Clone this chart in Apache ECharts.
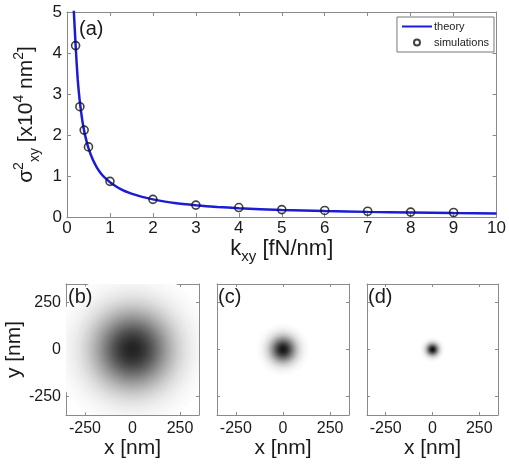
<!DOCTYPE html>
<html lang="en">
<head>
    <meta charset="UTF-8">
    <title>sigma_xy vs k_xy</title>
    <script src="https://cdn.jsdelivr.net/npm/echarts@6/dist/echarts.min.js"></script>
    <style>
        html, body { margin: 0; padding: 0; background: #fff; }
        #main { width: 509px; height: 465px; }
    </style>
</head>
<body>
<div id="main"></div>
<script>
    // panel (a): theory curve
    const kTheory = [0.15, 0.16, 0.18, 0.2, 0.225, 0.25, 0.275, 0.3, 0.35, 0.4, 0.45, 0.5, 0.6, 0.7, 0.8, 0.9, 1,
        1.25, 1.5, 1.75, 2, 2.5, 3, 3.5, 4, 5, 6, 7, 8, 9, 10];
    const sigmaTheory = [5.4, 5.0, 4.6, 4.2, 3.75, 3.35, 3.05, 2.8, 2.4, 2.1, 1.87, 1.68, 1.4, 1.2, 1.05, 0.94, 0.85,
        0.68, 0.57, 0.49, 0.43, 0.34, 0.285, 0.245, 0.215, 0.17, 0.145, 0.125, 0.11, 0.095, 0.085];
    // panel (a): simulation points
    const kSim = [0.2, 0.3, 0.4, 0.5, 1, 2, 3, 4, 5, 6, 7, 8, 9];
    const sigmaSim = [4.18, 2.69, 2.12, 1.71, 0.87, 0.43, 0.29, 0.23, 0.18, 0.16, 0.14, 0.12, 0.11];
    const xTicksA = [0, 1, 2, 3, 4, 5, 6, 7, 8, 9, 10];
    const yTicksA = [0, 1, 2, 3, 4, 5];

    // panels (b)-(d): position histograms, centre and spread in nm
    const panelLabels = ['(b)', '(c)', '(d)'];
    const blobX = [0, 0, 0];
    const blobY = [0, 0, 0];
    const blobSigma = [138, 46, 22];
    const posTicks = [-250, 0, 250];

    const FONT = "'Liberation Sans', Arial, sans-serif";
    const AXIS_GREY = '#8a8a8a';
    const TXT = '#1a1a1a';

    let chart = echarts.init(document.getElementById('main'));

    // grids: top plot and three small image panels
    const grids = [
        {left: 67, top: 12, width: 431, height: 205},
        {left: 66, top: 284, width: 133, height: 131},
        {left: 217, top: 284, width: 132, height: 131},
        {left: 367, top: 284, width: 131, height: 131}
    ];

    function tickAxis(gridIndex, pos, extra) {
        return Object.assign({
            type: 'value', gridIndex: gridIndex, position: pos,
            axisLine: {show: true, onZero: false, lineStyle: {color: AXIS_GREY, width: 1}},
            axisTick: {show: true, inside: true, length: 4, lineStyle: {color: AXIS_GREY}},
            axisLabel: {show: false},
            splitLine: {show: false}
        }, extra);
    }

    let xAxes = [];
    let yAxes = [];

    // panel (a)
    xAxes.push(tickAxis(0, 'bottom', {
        min: 0, max: 10, interval: 1,
        axisLabel: {show: true, color: TXT, fontSize: 17, fontFamily: FONT, margin: 3,
            customValues: xTicksA},
        name: '{m|k}{s|xy}{m| [fN/nm]}',
        nameLocation: 'middle', nameGap: 15,
        nameTextStyle: {
            rich: {
                m: {fontSize: 22, fontFamily: FONT, color: TXT, lineHeight: 30, verticalAlign: 'middle'},
                s: {fontSize: 15, fontFamily: FONT, color: TXT, lineHeight: 30, verticalAlign: 'bottom'}
            }
        }
    }));
    xAxes.push(tickAxis(0, 'top', {min: 0, max: 10, interval: 1}));
    yAxes.push(tickAxis(0, 'left', {
        min: 0, max: 5, interval: 1,
        axisLabel: {show: true, color: TXT, fontSize: 17, fontFamily: FONT, margin: 5,
            customValues: yTicksA},
        name: '{m|σ}{p|2}{s|xy}{m| [x10}{p|4}{m| nm}{p|2}{m|]}',
        nameLocation: 'middle', nameGap: 23, nameRotate: 90,
        nameTextStyle: {
            rich: {
                m: {fontSize: 21, fontFamily: FONT, color: TXT, lineHeight: 30, verticalAlign: 'middle'},
                p: {fontSize: 14, fontFamily: FONT, color: TXT, lineHeight: 30, verticalAlign: 'top'},
                s: {fontSize: 14, fontFamily: FONT, color: TXT, lineHeight: 30, verticalAlign: 'bottom'}
            }
        }
    }));
    yAxes.push(tickAxis(0, 'right', {min: 0, max: 5, interval: 1}));

    // panels (b)-(d)
    for (let p = 0; p < 3; p++) {
        let g = p + 1;
        xAxes.push(tickAxis(g, 'bottom', {
            min: -350, max: 350,
            axisTick: {show: true, inside: true, length: 3, lineStyle: {color: AXIS_GREY}, customValues: posTicks},
            axisLabel: {show: true, color: TXT, fontSize: 16, fontFamily: FONT, margin: 6, customValues: posTicks},
            name: 'x [nm]', nameLocation: 'middle', nameGap: 17,
            nameTextStyle: {fontSize: 21, fontFamily: FONT, color: TXT}
        }));
        xAxes.push(tickAxis(g, 'top', {
            min: -350, max: 350,
            axisTick: {show: true, inside: true, length: 3, lineStyle: {color: AXIS_GREY}, customValues: posTicks}
        }));
        let yMain = {
            min: -350, max: 350,
            axisTick: {show: true, inside: true, length: 3, lineStyle: {color: AXIS_GREY}, customValues: posTicks}
        };
        if (p === 0) {
            yMain.axisLabel = {show: true, color: TXT, fontSize: 16, fontFamily: FONT, margin: 5, customValues: posTicks};
            yMain.name = 'y [nm]';
            yMain.nameLocation = 'middle';
            yMain.nameGap = 40;
            yMain.nameRotate = 90;
            yMain.nameTextStyle = {fontSize: 21, fontFamily: FONT, color: TXT};
        }
        yAxes.push(tickAxis(g, 'left', yMain));
        yAxes.push(tickAxis(g, 'right', {
            min: -350, max: 350,
            axisTick: {show: true, inside: true, length: 3, lineStyle: {color: AXIS_GREY}, customValues: posTicks}
        }));
    }

    // gaussian-looking blob drawn as radial gradient, size from the axis scale
    const peakGrey = [34, 22, 16];
    function blobRenderer(p) {
        return function (params, api) {
            let c = api.coord([api.value(0), api.value(1)]);
            let r = api.size([api.value(2) * 3, 0])[0];
            let stops = [];
            for (let i = 0; i <= 12; i++) {
                let t = i / 12;
                let g = Math.exp(-(3 * t) * (3 * t) / 2);
                let v = Math.round(255 - (255 - peakGrey[p]) * g);
                stops.push({offset: t, color: 'rgb(' + v + ',' + v + ',' + v + ')'});
            }
            return {
                type: 'circle',
                shape: {cx: c[0], cy: c[1], r: r},
                style: {fill: new echarts.graphic.RadialGradient(0.5, 0.5, 0.5, stops)}
            };
        };
    }

    let series = [
        {
            name: 'theory', type: 'line',
            xAxisIndex: 0, yAxisIndex: 0,
            data: kTheory.map((k, i) => [k, sigmaTheory[i]]),
            symbol: 'none', smooth: 0.2, clip: true,
            lineStyle: {color: '#1c1cd6', width: 2.5},
            itemStyle: {color: '#1c1cd6'},
            z: 2
        },
        {
            name: 'simulations', type: 'scatter',
            xAxisIndex: 0, yAxisIndex: 0,
            data: kSim.map((k, i) => [k, sigmaSim[i]]),
            symbol: 'circle', symbolSize: 8,
            itemStyle: {color: 'rgba(0,0,0,0)', borderColor: '#111', borderWidth: 1.6},
            z: 3
        }
    ];
    for (let p = 0; p < 3; p++) {
        series.push({
            type: 'custom', name: 'blob' + p,
            xAxisIndex: 2 + 2 * p, yAxisIndex: 2 + 2 * p,
            clip: true,
            renderItem: blobRenderer(p),
            data: [[blobX[p], blobY[p], blobSigma[p]]],
            silent: true
        });
    }

    let graphics = [{type: 'text', left: 79, top: 19, z: 100, style: {text: '(a)', font: '20px ' + FONT, fill: TXT}}];
    const labelLeft = [68, 218, 368];
    panelLabels.forEach((t, i) => {
        graphics.push({type: 'text', left: labelLeft[i], top: 287, z: 100,
            style: {text: t, font: '20px ' + FONT, fill: TXT}});
    });

    chart.setOption({
        animation: false,
        backgroundColor: '#fff',
        grid: grids,
        xAxis: xAxes,
        yAxis: yAxes,
        legend: {
            data: [
                {name: 'theory', icon: 'path://M0,0L30,0L30,2L0,2Z'},
                {name: 'simulations', icon: 'circle',
                    itemStyle: {color: '#fff', borderColor: '#111', borderWidth: 2}}
            ],
            orient: 'vertical', right: 15, top: 17,
            itemWidth: 30, itemHeight: 6, itemGap: 5,
            padding: [4, 5, 4, 5],
            borderColor: '#777', borderWidth: 1, backgroundColor: '#fff',
            textStyle: {fontSize: 11, fontFamily: FONT, color: '#222', padding: [0, 0, 0, -3]}
        },
        graphic: graphics,
        series: series
    });
</script>
</body>
</html>
